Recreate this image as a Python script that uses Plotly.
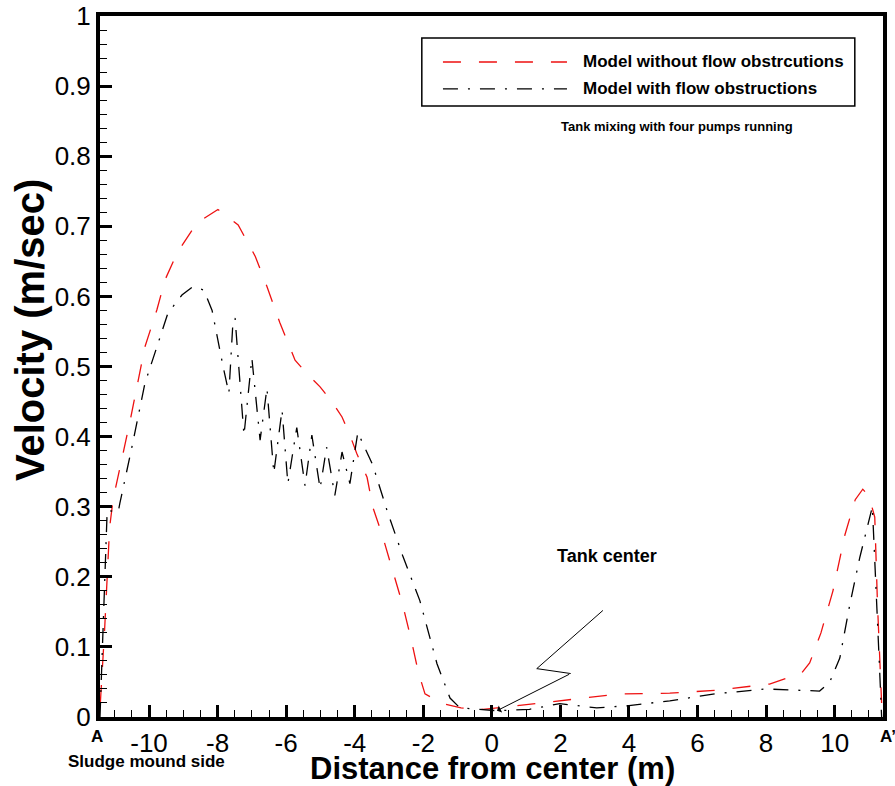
import plotly.graph_objects as go

# ---------------- data ----------------
x_without = [-11.42, -11.3, -11.15, -11.05, -10.55, -10.12, -9.77, -9.53, -9.18, -8.6,
             -7.99, -7.4, -6.9, -6.56, -6.18, -5.74, -5.36, -5.01, -4.64, -4.37,
             -4.14, -3.94, -3.64, -3.47, -3.2, -2.9, -2.6, -2.35, -2.15, -1.95,
             -1.43, -0.9, -0.26, 0.73, 1.98, 3.73, 5.19, 6.5, 8.1, 9.04,
             9.27, 9.6, 9.95, 10.3, 10.6, 10.82, 11.0, 11.17, 11.25, 11.37]
v_without = [0.02, 0.12, 0.27, 0.31, 0.423, 0.528, 0.581, 0.624, 0.662, 0.705,
             0.724, 0.702, 0.657, 0.614, 0.562, 0.509, 0.488, 0.471, 0.448, 0.428,
             0.402, 0.376, 0.342, 0.299, 0.26, 0.21, 0.16, 0.11, 0.065, 0.033,
             0.019, 0.013, 0.011, 0.016, 0.023, 0.033, 0.034, 0.038, 0.047, 0.063,
             0.077, 0.12, 0.18, 0.26, 0.31, 0.325, 0.315, 0.285, 0.16, 0.02]

x_with = [-11.43, -11.34, -11.22, -10.9, -10.85, -10.5, -10.12, -9.77, -9.45, -9.04,
          -8.72, -8.4, -8.16, -7.84, -7.67, -7.55, -7.49, -7.23, -7.0, -6.76,
          -6.56, -6.36, -6.12, -5.95, -5.69, -5.45, -5.25, -5.01, -4.82, -4.58,
          -4.37, -4.14, -3.91, -3.47, -3.06, -2.6, -2.1, -1.6, -1.22, -0.93,
          0.15, 1.1, 1.98, 3.06, 3.94, 5.19, 6.5, 8.0, 9.56, 9.85,
          10.15, 10.44, 10.73, 11.1, 11.2, 11.3, 11.37]
v_with = [0.0, 0.127, 0.295, 0.292, 0.305, 0.385, 0.476, 0.528, 0.576, 0.602,
          0.614, 0.609, 0.58, 0.5, 0.462, 0.565, 0.569, 0.402, 0.512, 0.395,
          0.469, 0.348, 0.438, 0.333, 0.413, 0.33, 0.402, 0.326, 0.385, 0.316,
          0.378, 0.333, 0.406, 0.359, 0.295, 0.23, 0.166, 0.076, 0.027, 0.013,
          0.009, 0.011, 0.019, 0.013, 0.016, 0.023, 0.033, 0.04, 0.037, 0.049,
          0.084, 0.16, 0.227, 0.30, 0.2, 0.08, 0.0]

x_ticks = [-10, -8, -6, -4, -2, 0, 2, 4, 6, 8, 10]
y_ticks = [0, 0.1, 0.2, 0.3, 0.4, 0.5, 0.6, 0.7, 0.8, 0.9, 1.0]

series_names = ["Model without flow obstrcutions", "Model with flow obstructions"]

# pointer toward the tank center (zig-zag leader line, data units)
pointer_x = [3.24, 1.31, 2.3]
pointer_y = [0.152, 0.069, 0.062]
pointer_tip = (0.15, 0.009)

FONT = "Liberation Sans, Arial, sans-serif"
RED = "#ee1111"
RED_DASH = "18px,18px"
BLACK_DASH = "15px,10px,2px,10px"

fig = go.Figure()
fig.add_trace(go.Scatter(x=x_without, y=v_without, mode="lines",
                         line=dict(color=RED, width=1.3, dash=RED_DASH),
                         name=series_names[0], showlegend=False))
fig.add_trace(go.Scatter(x=x_with, y=v_with, mode="lines",
                         line=dict(color="black", width=1.3, dash=BLACK_DASH),
                         name=series_names[1], showlegend=False))
fig.add_trace(go.Scatter(x=pointer_x, y=pointer_y, mode="lines",
                         line=dict(color="black", width=1), showlegend=False,
                         hoverinfo="skip"))

# arrow head segment
fig.add_annotation(x=pointer_tip[0], y=pointer_tip[1], ax=pointer_x[-1], ay=pointer_y[-1],
                   xref="x", yref="y", axref="x", ayref="y", text="",
                   showarrow=True, arrowhead=1, arrowsize=1.3, arrowwidth=1, arrowcolor="black")
fig.add_annotation(x=3.35, y=0.23, xref="x", yref="y", text="<b>Tank center</b>",
                   showarrow=False, font=dict(family=FONT, size=18, color="black"))

# custom legend
fig.add_shape(type="rect", xref="paper", yref="paper", x0=0.411, x1=0.964, y0=0.8716, y1=0.9686,
              line=dict(color="black", width=1.5), fillcolor="white", layer="above")
fig.add_shape(type="line", xref="paper", yref="paper", x0=0.438, x1=0.5964, y0=0.9344, y1=0.9344,
              line=dict(color=RED, width=1.3, dash=RED_DASH))
fig.add_shape(type="line", xref="paper", yref="paper", x0=0.438, x1=0.5964, y0=0.8959, y1=0.8959,
              line=dict(color="black", width=1.3, dash=BLACK_DASH))
fig.add_annotation(x=0.6143, y=0.9344, xref="paper", yref="paper", xanchor="left", yanchor="middle",
                   text="<b>" + series_names[0] + "</b>", showarrow=False,
                   font=dict(family=FONT, size=17, color="black"))
fig.add_annotation(x=0.6143, y=0.8959, xref="paper", yref="paper", xanchor="left", yanchor="middle",
                   text="<b>" + series_names[1] + "</b>", showarrow=False,
                   font=dict(family=FONT, size=17, color="black"))
fig.add_annotation(x=0.737, y=0.8417, xref="paper", yref="paper", xanchor="center", yanchor="middle",
                   text="<b>Tank mixing with four pumps running</b>", showarrow=False,
                   font=dict(family=FONT, size=13, color="black"))

# end labels below x axis
fig.add_annotation(x=-0.004, y=-0.0285, xref="paper", yref="paper", xanchor="center", yanchor="middle",
                   text="<b>A</b>", showarrow=False, font=dict(family=FONT, size=17, color="black"))
fig.add_annotation(x=1.006, y=-0.0285, xref="paper", yref="paper", xanchor="center", yanchor="middle",
                   text="<b>A’</b>", showarrow=False, font=dict(family=FONT, size=17, color="black"))
fig.add_annotation(x=0.06, y=-0.064, xref="paper", yref="paper", xanchor="center", yanchor="middle",
                   text="<b>Sludge mound side</b>", showarrow=False,
                   font=dict(family=FONT, size=17, color="black"))

# axis titles
fig.add_annotation(x=(0.5 * (303 + 682) - 100) / 783, y=(717 - 768) / 701, xref="paper", yref="paper",
                   xanchor="center", yanchor="middle", text="<b>Distance from center (m)</b>",
                   showarrow=False, font=dict(family=FONT, size=31, color="black"))
fig.add_annotation(x=(30 - 100) / 783, y=(717 - 330) / 701, xref="paper", yref="paper",
                   xanchor="center", yanchor="middle", textangle=-90,
                   text="<b>Velocity (m/sec)</b>",
                   showarrow=False, font=dict(family=FONT, size=40, color="black"))

fig.update_layout(
    width=895, height=786,
    margin=dict(l=100, r=12, t=16, b=69),
    plot_bgcolor="white", paper_bgcolor="white",
    font=dict(family=FONT, color="black"),
    showlegend=False,
)
fig.update_xaxes(
    range=[-11.43, 11.41], tickvals=x_ticks, ticktext=[str(t) for t in x_ticks],
    ticks="inside", ticklen=12, tickwidth=3, tickcolor="black",
    minor=dict(dtick=0.5, tick0=0, ticks="inside", ticklen=7, tickwidth=1, tickcolor="black"),
    showline=True, linewidth=4, linecolor="black", mirror=True,
    showgrid=False, zeroline=False, automargin=False,
    tickfont=dict(family=FONT, size=26, color="black"),
)
fig.update_yaxes(
    range=[0, 1], tickvals=y_ticks, ticktext=[("%g" % t) for t in y_ticks],
    ticks="inside", ticklen=12, tickwidth=3, tickcolor="black",
    minor=dict(dtick=0.02, tick0=0, ticks="inside", ticklen=7, tickwidth=1, tickcolor="black"),
    showline=True, linewidth=4, linecolor="black", mirror=True,
    showgrid=False, zeroline=False, automargin=False,
    tickfont=dict(family=FONT, size=26, color="black"),
)

fig.write_html("out.html")
